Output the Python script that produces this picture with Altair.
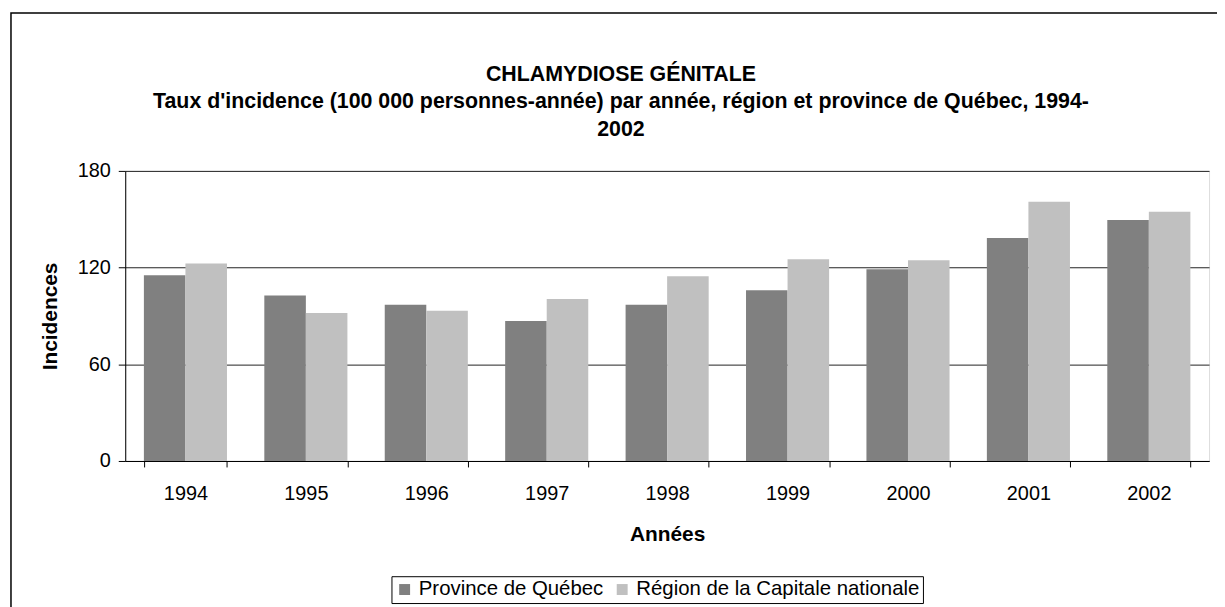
import altair as alt
import pandas as pd

years = ["1994", "1995", "1996", "1997", "1998", "1999", "2000", "2001", "2002"]
province = [115.2, 102.7, 97.0, 86.9, 97.0, 106.0, 118.9, 138.4, 149.5]
region = [122.6, 91.8, 93.3, 100.5, 114.6, 125.2, 124.6, 160.9, 154.6]
series = ["Province de Québec", "Région de la Capitale nationale"]
colors = ["#808080", "#C0C0C0"]
y_ticks = [0, 60, 120, 180]
title_lines = [
    "CHLAMYDIOSE GÉNITALE",
    "Taux d'incidence (100 000 personnes-année) par année, région et province de Québec, 1994-",
    "2002",
]

rows = []
for i, yr in enumerate(years):
    rows.append({"annee": yr, "serie": series[0], "valeur": province[i]})
    rows.append({"annee": yr, "serie": series[1], "valeur": region[i]})
df = pd.DataFrame(rows)

FONT = "Liberation Sans"

bars = alt.Chart(df).mark_bar().encode(
    x=alt.X("annee:N", sort=years,
            scale=alt.Scale(paddingInner=0.31, paddingOuter=0.155),
            axis=alt.Axis(title="Années", labelAngle=0, tickBand="extent",
                          domainColor="black", tickColor="black", tickSize=6,
                          labelPadding=17, titlePadding=20, grid=False,
                          labelFontSize=20, titleFontSize=21, titleFontWeight="bold",
                          labelFont=FONT, titleFont=FONT, labelColor="black", titleColor="black")),
    xOffset=alt.XOffset("serie:N", sort=series, scale=alt.Scale(paddingInner=0, paddingOuter=0)),
    y=alt.Y("valeur:Q", scale=alt.Scale(domain=[0, 180], nice=False),
            axis=alt.Axis(title="Incidences", values=y_ticks, domainColor="black",
                          tickColor="black", tickSize=7, labelPadding=8, titlePadding=17,
                          gridColor="#222222", gridWidth=1,
                          labelFontSize=20, titleFontSize=21, titleFontWeight="bold",
                          labelFont=FONT, titleFont=FONT, labelColor="black", titleColor="black")),
    color=alt.Color("serie:N", sort=series,
                    scale=alt.Scale(domain=series, range=colors),
                    legend=alt.Legend(title=None, orient="none", legendX=268, legendY=408,
                                      direction="horizontal", symbolType="square",
                                      symbolSize=121, symbolStrokeWidth=0,
                                      labelFontSize=20.5, labelFont=FONT, labelColor="black",
                                      labelLimit=600,
                                      strokeColor="black", padding=3, fillColor="white",
                                      columnPadding=8, labelOffset=4)),
)

deco = alt.Chart(pd.DataFrame({"a": [0]}))

frame = deco.mark_rect(
    filled=False, stroke="black", strokeWidth=1.5, clip=False
).encode(
    x=alt.value(-115), x2=alt.value(1300), y=alt.value(-159), y2=alt.value(600)
)

title = deco.mark_text(
    text=title_lines, font=FONT, fontSize=21.5, fontWeight="bold", color="black",
    align="center", baseline="middle", lineHeight=28, clip=False
).encode(
    x=alt.value(499), y=alt.value(-97)
)

chart = alt.layer(frame, title, bars).properties(
    width=1091, height=292,
    autosize=alt.AutoSizeParams(type="none"),
    padding={"left": 118, "top": 162, "right": 8, "bottom": 145},
).configure_view(stroke="#808080", strokeWidth=2).configure(background="white")

chart.save("out.html", embed_options={"renderer": "svg", "actions": False})
